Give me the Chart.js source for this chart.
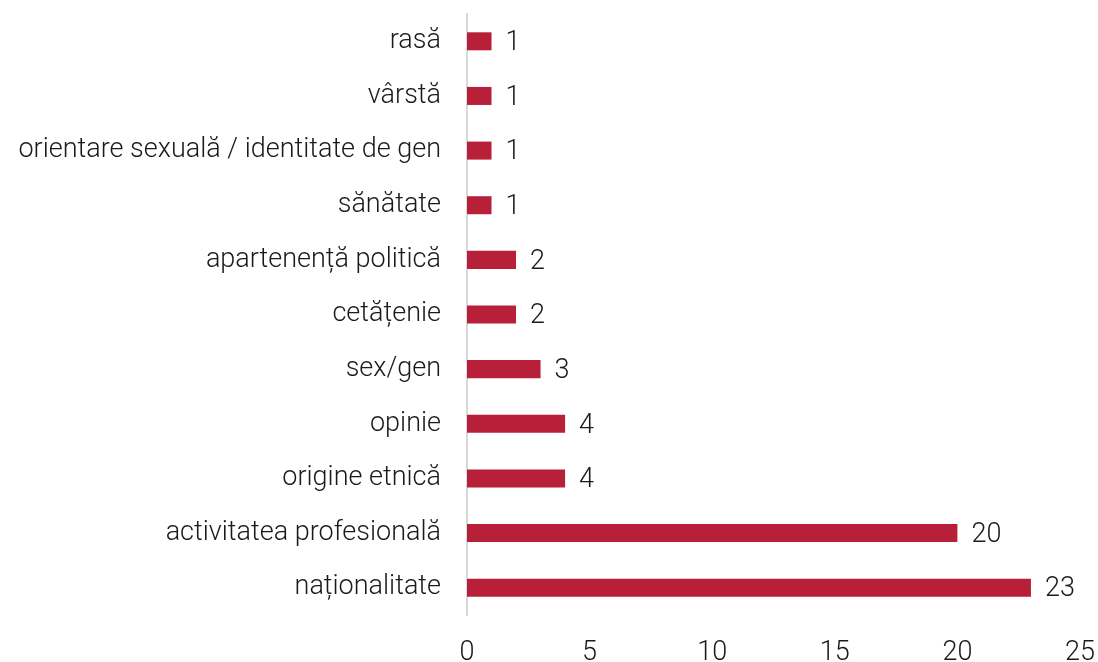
<!DOCTYPE html>
<html>
<head>
<meta charset="utf-8">
<script src="https://cdn.jsdelivr.net/npm/chart.js@4/dist/chart.umd.min.js"></script>
<style>
  body { margin: 0; background: #fff; }
  #wrap { width: 1098px; height: 662px; }
</style>
</head>
<body>
<div id="wrap"><canvas id="reasonChart"></canvas></div>
<script>
// Data
const categories = [
  "rasă", "vârstă", "orientare sexuală / identitate de gen", "sănătate",
  "apartenență politică", "cetățenie", "sex/gen", "opinie",
  "origine etnică", "activitatea profesională", "naționalitate"
];
const counts = [1, 1, 1, 1, 2, 2, 3, 4, 4, 20, 23];
const xTicks = [0, 5, 10, 15, 20, 25];

const fontFamily = "Roboto, 'Noto Sans', sans-serif";
const textColor = "#1a1a1a";

// value labels at the end of each bar
const valueLabels = {
  id: "valueLabels",
  afterDatasetsDraw(chart) {
    const ctx = chart.ctx;
    const meta = chart.getDatasetMeta(0);
    ctx.save();
    ctx.font = "300 27px " + fontFamily;
    ctx.fillStyle = textColor;
    ctx.textAlign = "left";
    ctx.textBaseline = "middle";
    meta.data.forEach((bar, i) => {
      ctx.fillText(String(counts[i]), bar.x + 14, bar.y + 2);
    });
    ctx.restore();
  }
};

const ctx = document.getElementById("reasonChart").getContext("2d");
new Chart(ctx, {
  type: "bar",
  data: {
    labels: categories,
    datasets: [{
      data: counts,
      backgroundColor: "#b8203a",
      barPercentage: 0.66,
      categoryPercentage: 0.5
    }]
  },
  options: {
    indexAxis: "y",
    responsive: true,
    maintainAspectRatio: false,
    animation: false,
    layout: { padding: { top: 14, right: 18, bottom: 0, left: 0 } },
    plugins: {
      legend: { display: false },
      tooltip: { enabled: false }
    },
    scales: {
      x: {
        min: 0,
        max: 25,
        afterBuildTicks: (scale) => { scale.ticks = xTicks.map(v => ({ value: v })); },
        grid: { display: false, drawTicks: false },
        border: { display: false },
        ticks: {
          padding: 22,
          color: textColor,
          font: { family: fontFamily, size: 27, weight: 300 }
        },
        afterFit: (scale) => {
          scale.height = 47;
          scale.paddingLeft = 0;
          scale.paddingRight = 0;
        }
      },
      y: {
        grid: { display: false, drawTicks: false },
        border: { display: true, color: "#d9d9d9", width: 2 },
        ticks: {
          padding: 26,
          color: textColor,
          font: { family: fontFamily, size: 27, weight: 300 }
        },
        afterFit: (scale) => {
          scale.width = 467;
          scale.paddingTop = 0;
          scale.paddingBottom = 0;
        }
      }
    }
  },
  plugins: [valueLabels]
});
</script>
</body>
</html>
